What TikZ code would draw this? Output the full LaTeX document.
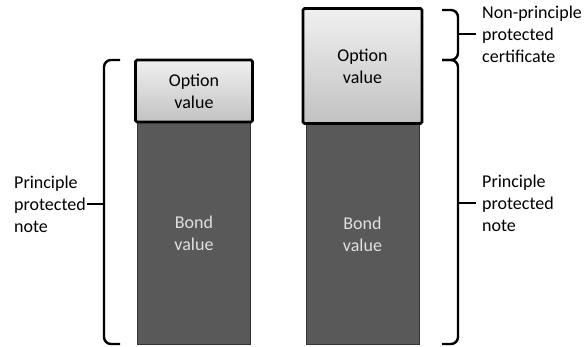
\documentclass[tikz,border=0pt]{standalone}
\usepackage{fontspec}
\setmainfont{Carlito}
\begin{document}
\begin{tikzpicture}[x=1pt,y=-1pt,
  bond/.style={draw=black!80,line width=1pt,fill=black!65,text=white!88!black,
    align=center,font=\fontsize{18}{22}\selectfont},
  option/.style={draw=black,line width=2.6pt,rounded corners=1.5pt,
    top color=white!94!black,bottom color=white!76!black,
    align=center,font=\fontsize{18}{22}\selectfont},
  label/.style={align=left,inner sep=1pt,font=\fontsize{18}{22}\selectfont},
  brace line/.style={line width=2.4pt,rounded corners=7pt}]
\useasboundingbox (0,0) rectangle (584,347);

% Left column: principle protected note
\node[bond,minimum width=113pt,minimum height=223pt] (bondL) at (194,233.5) {Bond\\value};
\node[option,minimum width=117pt,minimum height=62pt] (optL) at (194,91) {Option\\value};

% Right column: non-principle protected certificate
\node[bond,minimum width=113pt,minimum height=222pt] (bondR) at (362.5,234) {Bond\\value};
\node[option,minimum width=119pt,minimum height=115pt] (optR) at (362.5,66) {Option\\value};

% Brace ends
\coordinate (lT) at (120,60);
\coordinate (lB) at (120,344);
\coordinate (lTip) at (87,204);
\coordinate (rT) at (442,10);
\coordinate (rM) at (442,60);
\coordinate (rB) at (442,344);
\coordinate (rTipA) at (476,34);
\coordinate (rTipB) at (476,203);

% Left brace
\draw[brace line] (lT) -- ++(-16,0) |- (lB);
\draw[line width=2.4pt] (104,204) -- (lTip);
\node[label,anchor=east] (ppnL) at (lTip) {Principle\\protected\\note};

% Right braces
\draw[brace line] (rT) -- ++(16,0) |- (rM);
\draw[line width=2.4pt] (458,34) -- (rTipA);
\draw[brace line] (rM) -- ++(16,0) |- (rB);
\draw[line width=2.4pt] (458,203) -- (rTipB);
\node[label,anchor=west,inner xsep=6pt] (nppc) at (rTipA) {Non-principle\\protected\\certificate};
\node[label,anchor=west,inner xsep=6pt] (ppnR) at (rTipB) {Principle\\protected\\note};

\end{tikzpicture}
\end{document}
